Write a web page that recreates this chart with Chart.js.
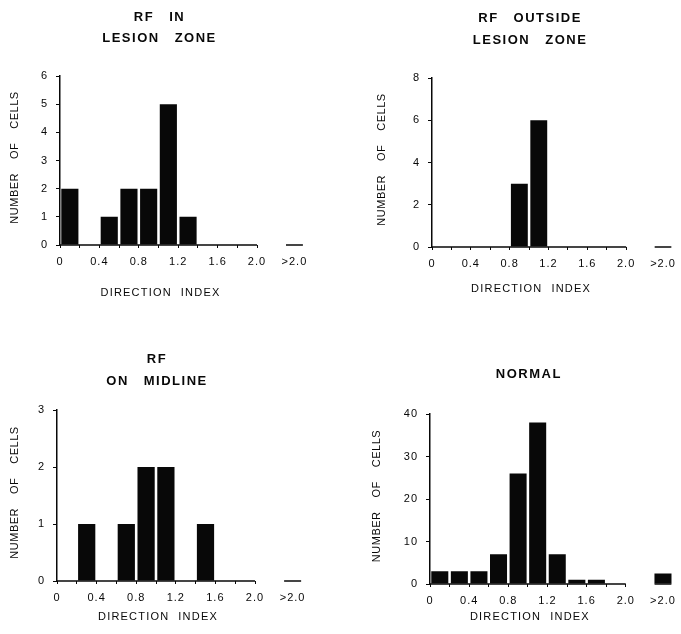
<!DOCTYPE html>
<html>
<head>
<meta charset="utf-8">
<script src="https://cdn.jsdelivr.net/npm/chart.js@4.4.0/dist/chart.umd.min.js"></script>
<style>
  body { margin: 0; background: #fff; }
  #wrap { position: relative; width: 681px; height: 634px; background: #fff; }
  canvas { position: absolute; }
</style>
</head>
<body>
<div id="wrap">
  <canvas id="c1" width="340" height="317" style="left:0;top:0"></canvas>
  <canvas id="c2" width="341" height="317" style="left:340px;top:0"></canvas>
  <canvas id="c3" width="340" height="317" style="left:0;top:317px"></canvas>
  <canvas id="c4" width="341" height="317" style="left:340px;top:317px"></canvas>
</div>
<script>
// bins of the direction index, 0 - 2.0 by 0.2, plus one ">2.0" bin
const binEdges = [0, 0.2, 0.4, 0.6, 0.8, 1.0, 1.2, 1.4, 1.6, 1.8, 2.0];
const xTickLabels = ['0', '', '0.4', '', '0.8', '', '1.2', '', '1.6', '', '2.0'];
const overflowLabel = '>2.0';
const overflowCenter = 2.38;

// number of cells per bin
const countsInLesion = [2, 0, 1, 2, 2, 5, 1, 0, 0, 0];
const overflowInLesion = 0;
const countsOutside = [0, 0, 0, 0, 3, 6, 0, 0, 0, 0];
const overflowOutside = 0;
const countsMidline = [0, 1, 0, 1, 2, 2, 0, 1, 0, 0];
const overflowMidline = 0;
const countsNormal = [3, 3, 3, 7, 26, 38, 7, 1, 1, 0];
const overflowNormal = 2.5;

const FONT = '"Liberation Sans", Arial, Helvetica, sans-serif';
const INK = '#080808';

const panels = [
    { id: 'c1', counts: countsInLesion, overflow: overflowInLesion, yMax: 6, yStep: 1,
      left: 60, ppu: 98.5, top: 76, bottom: 245, yTitleX: 15, xTitleDy: 48,
      titles: [{ words: ['RF', 'IN'], y: 17 }, { words: ['LESION', 'ZONE'], y: 38 }] },
    { id: 'c2', counts: countsOutside, overflow: overflowOutside, yMax: 8, yStep: 2,
      left: 92, ppu: 98.5, top: 78, bottom: 247, yTitleX: 42, xTitleDy: 42,
      titles: [{ words: ['RF', 'OUTSIDE'], y: 18 }, { words: ['LESION', 'ZONE'], y: 40 }] },
    { id: 'c3', counts: countsMidline, overflow: overflowMidline, yMax: 3, yStep: 1,
      left: 57, ppu: 99, top: 93, bottom: 264, yTitleX: 15, xTitleDy: 36,
      titles: [{ words: ['RF'], y: 42 }, { words: ['ON', 'MIDLINE'], y: 64 }] },
    { id: 'c4', counts: countsNormal, overflow: overflowNormal, yMax: 40, yStep: 10,
      left: 90, ppu: 99, top: 97, bottom: 267, yTitleX: 37, xTitleDy: 33,
      titles: [{ words: ['NORMAL'], y: 57 }] }
];

// words drawn one by one so the wide gaps of the original survive
function drawWords(ctx, words, cx, cy, gap) {
    const widths = words.map(w => ctx.measureText(w).width);
    const total = widths.reduce((a, b) => a + b, 0) + gap * (words.length - 1);
    let x = cx - total / 2;
    words.forEach((w, i) => {
        ctx.fillText(w, x, cy);
        x += widths[i] + gap;
    });
}

function textPlugin(p) {
    return {
        id: 'panelText',
        beforeDraw(chart) {
            chart.ctx.letterSpacing = '1px';
        },
        afterDraw(chart) {
            const ctx = chart.ctx;
            const xs = chart.scales.x;
            const area = chart.chartArea;
            const cx = xs.getPixelForValue(1.0);
            ctx.save();
            ctx.fillStyle = INK;
            ctx.textAlign = 'left';
            ctx.textBaseline = 'middle';

            ctx.font = 'bold 13px ' + FONT;
            ctx.letterSpacing = '1.5px';
            p.titles.forEach(t => drawWords(ctx, t.words, cx + 1, t.y, 15));

            ctx.font = '11px ' + FONT;
            ctx.letterSpacing = '1.2px';
            drawWords(ctx, ['DIRECTION', 'INDEX'], cx + 2, area.bottom + p.xTitleDy, 9);

            ctx.translate(p.yTitleX, (area.top + area.bottom) / 2 - 3);
            ctx.rotate(-Math.PI / 2);
            ctx.letterSpacing = '0.5px';
            drawWords(ctx, ['NUMBER', 'OF', 'CELLS'], 0, 0, 14);
            ctx.restore();
        }
    };
}

function makeChart(p) {
    const canvas = document.getElementById(p.id);
    const W = canvas.width, H = canvas.height;
    const last = binEdges[binEdges.length - 1];
    const binWidth = binEdges[1] - binEdges[0];

    const bars = binEdges.slice(0, -1).map((e, i) => ({ x: e + binWidth / 2, y: p.counts[i] }));
    bars.push({ x: overflowCenter, y: p.overflow });

    const half = binWidth * 0.43;
    const baseline = [
        { x: binEdges[0], y: 0 },
        { x: last, y: 0 },
        { x: (last + overflowCenter) / 2, y: null },
        { x: overflowCenter - half, y: 0 },
        { x: overflowCenter + half, y: 0 }
    ];
    const allLabels = xTickLabels.concat([overflowLabel]);
    const tickFont = { family: FONT, size: 11 };

    return new Chart(canvas, {
        type: 'bar',
        data: {
            datasets: [{
                type: 'bar',
                data: bars,
                backgroundColor: INK,
                borderWidth: 0,
                categoryPercentage: 1,
                barPercentage: 0.87
            }, {
                type: 'line',
                data: baseline,
                borderColor: INK,
                borderWidth: 1.5,
                pointRadius: 0,
                spanGaps: false,
                clip: false
            }]
        },
        options: {
            responsive: false,
            animation: false,
            devicePixelRatio: 1,
            layout: { padding: { left: 0, top: p.top, right: W - (p.left + 2.5 * p.ppu), bottom: 0 } },
            plugins: { legend: { display: false }, tooltip: { enabled: false } },
            scales: {
                x: {
                    type: 'linear',
                    min: 0,
                    max: 2.5,
                    offset: false,
                    afterBuildTicks: s => {
                        s.ticks = binEdges.map(v => ({ value: v })).concat([{ value: overflowCenter }]);
                    },
                    afterFit: s => { s.height = H - p.bottom; },
                    border: { display: false },
                    grid: {
                        offset: false,
                        drawOnChartArea: false,
                        tickLength: 3,
                        lineWidth: 1,
                        tickColor: c => (c.tick && c.tick.value > last + 0.01) ? 'rgba(0,0,0,0)' : INK
                    },
                    ticks: {
                        autoSkip: false,
                        maxRotation: 0,
                        minRotation: 0,
                        padding: 7,
                        color: INK,
                        font: tickFont,
                        callback: (v, i) => allLabels[i]
                    }
                },
                y: {
                    min: 0,
                    max: p.yMax,
                    afterFit: s => { s.width = p.left; },
                    border: { display: true, color: INK, width: 1.5 },
                    grid: { drawOnChartArea: false, tickLength: 4, color: INK },
                    ticks: { stepSize: p.yStep, padding: 8, color: INK, font: tickFont }
                }
            }
        },
        plugins: [textPlugin(p)]
    });
}

panels.forEach(makeChart);
</script>
</body>
</html>
